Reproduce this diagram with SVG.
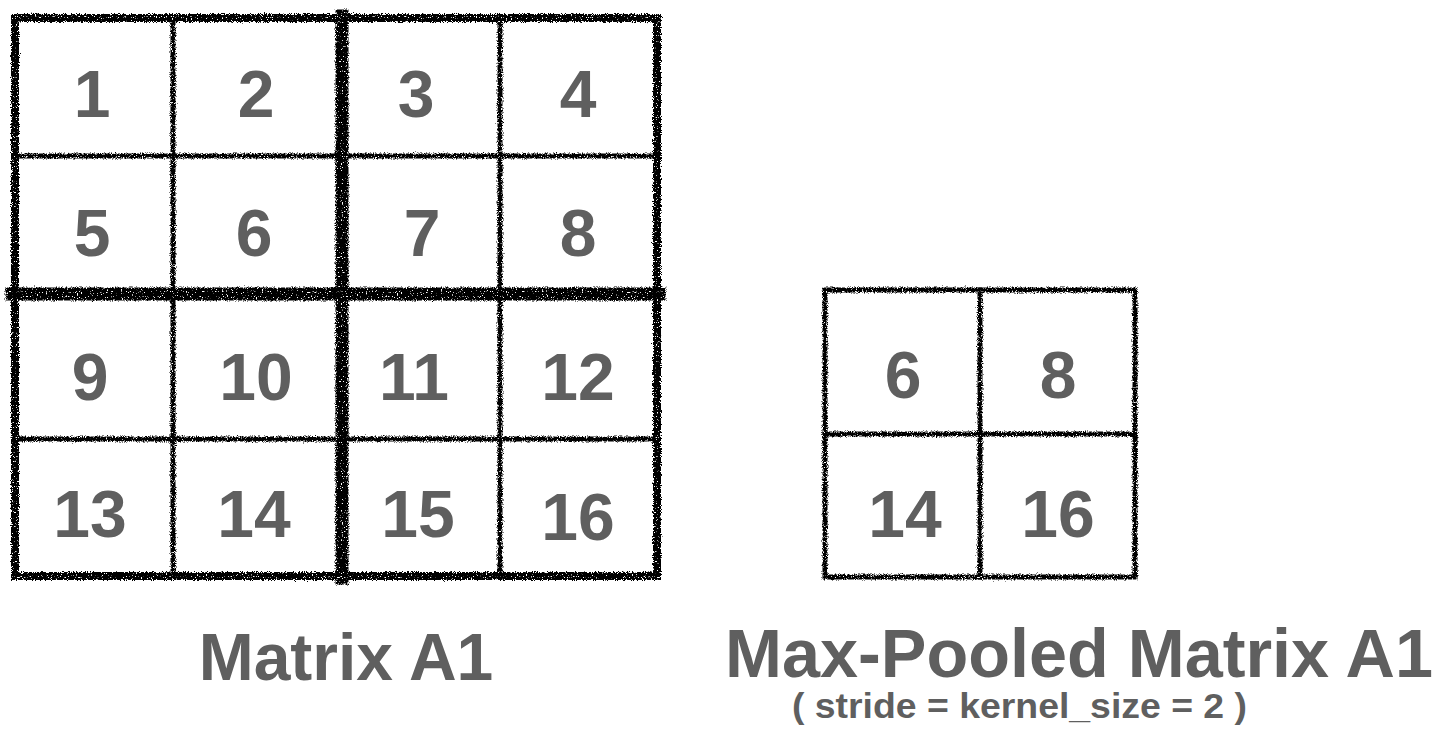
<svg xmlns="http://www.w3.org/2000/svg" width="1442" height="732" viewBox="0 0 1442 732">
  <style>
    .num { font-family: "Liberation Sans", Arial, Helvetica, sans-serif; font-weight: bold; font-size: 66px; fill: #5f5f5f; text-anchor: middle; }
    .title { font-family: "Liberation Sans", Arial, Helvetica, sans-serif; font-weight: bold; fill: #5f5f5f; }
    .ln { stroke: #000; fill: none; stroke-linecap: square; }
    .thin { stroke-width: 5; }
    .outer { stroke-width: 8; }
    .thick { stroke-width: 13; }
  </style>
  <defs>
    <filter id="rough" x="-5%" y="-5%" width="110%" height="110%">
      <feTurbulence type="fractalNoise" baseFrequency="1.1" numOctaves="2" seed="7" result="noise"/>
      <feDisplacementMap in="SourceGraphic" in2="noise" scale="5" xChannelSelector="R" yChannelSelector="G" result="disp"/>
      <feTurbulence type="fractalNoise" baseFrequency="0.8" numOctaves="1" seed="11" result="spk"/>
      <feColorMatrix in="spk" type="matrix" values="0 0 0 0 0  0 0 0 0 0  0 0 0 0 0  0 0 0 -12 8.5" result="mask"/>
      <feComposite in="disp" in2="mask" operator="in"/>
    </filter>
  </defs>
  <rect width="1442" height="732" fill="#fff"/>

  <g id="matrix-a1-grid" filter="url(#rough)">
    <line class="ln thin" x1="173" y1="18" x2="173" y2="576"/>
    <line class="ln thin" x1="500" y1="18" x2="500" y2="576"/>
    <line class="ln thin" x1="15" y1="156" x2="657" y2="156"/>
    <line class="ln thin" x1="15" y1="439" x2="657" y2="439"/>
    <rect class="ln outer" x="15" y="18" width="642" height="558"/>
    <line class="ln thick" x1="342" y1="16" x2="342" y2="578"/>
    <line class="ln thick" x1="12" y1="294" x2="659" y2="294"/>
  </g>

  <g id="matrix-a1-cells">
    <text class="num" x="92" y="117">1</text>
    <text class="num" x="256" y="117">2</text>
    <text class="num" x="416" y="117">3</text>
    <text class="num" x="578" y="117">4</text>
    <text class="num" x="92" y="256">5</text>
    <text class="num" x="254" y="256">6</text>
    <text class="num" x="422" y="256">7</text>
    <text class="num" x="578" y="256">8</text>
    <text class="num" x="90" y="400">9</text>
    <text class="num" x="256" y="400">10</text>
    <text class="num" x="414" y="400">11</text>
    <text class="num" x="578" y="400">12</text>
    <text class="num" x="90" y="537">13</text>
    <text class="num" x="254" y="537">14</text>
    <text class="num" x="418" y="537">15</text>
    <text class="num" x="578" y="540">16</text>
  </g>

  <g id="pooled-grid" filter="url(#rough)">
    <rect class="ln thin" x="825" y="290" width="310" height="287"/>
    <line class="ln thin" x1="980" y1="290" x2="980" y2="577"/>
    <line class="ln thin" x1="825" y1="434" x2="1135" y2="434"/>
  </g>

  <g id="pooled-cells">
    <text class="num" x="903" y="398">6</text>
    <text class="num" x="1058" y="398">8</text>
    <text class="num" x="905" y="537">14</text>
    <text class="num" x="1058" y="537">16</text>
  </g>

  <g id="labels">
    <text class="title" x="346" y="680" font-size="66" text-anchor="middle">Matrix A1</text>
    <text class="title" x="725" y="677" font-size="68" textLength="708" lengthAdjust="spacingAndGlyphs">Max-Pooled Matrix A1</text>
    <text class="title" x="792" y="718" font-size="35" textLength="455" lengthAdjust="spacingAndGlyphs">( stride = kernel_size = 2 )</text>
  </g>
</svg>
